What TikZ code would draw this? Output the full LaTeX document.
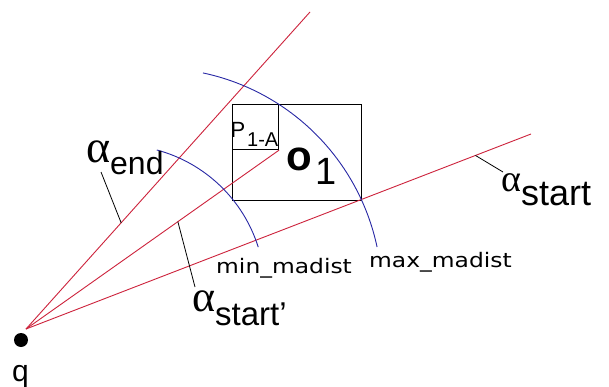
\documentclass[tikz,border=0pt]{standalone}
\usepackage{fontspec}
\usepackage{graphicx}
\setmainfont{Liberation Sans}
\newfontfamily\serifA{Liberation Serif}
\newfontfamily\dejavu{DejaVu Sans}
\usetikzlibrary{calc}
\definecolor{rayred}{RGB}{205,35,60}
\definecolor{arcblue}{RGB}{40,40,165}
\begin{document}
\begin{tikzpicture}[x=1pt,y=-1pt,
  ray/.style={draw=rayred, line width=0.9pt},
  arcline/.style={draw=arcblue, line width=0.9pt},
  leader/.style={draw=black, line width=0.8pt},
  boxline/.style={draw=black, line width=1.1pt, rectangle, inner sep=0pt, anchor=north west},
  lbl/.style={inner sep=0pt, anchor=base west},
]
\useasboundingbox (0,0) rectangle (609,387);
\fill[white] (0,0) rectangle (609,387);
% key points
\coordinate (o) at (26,329);
\coordinate (rEnd) at (310,12);
\coordinate (rStart) at (531,134);
\coordinate (c1) at (119,291);
\coordinate (c2) at (156,294);

% boxes
\node[boxline, minimum width=129pt, minimum height=96pt] (box) at (232,104) {};
\node[boxline, minimum width=46pt, minimum height=45pt] (sq) at (232,104) {};
\coordinate (rStartP) at (sq.south east);

% text inside small square (clipped)
\begin{scope}
  \clip (232,104) rectangle (278,149);
  \node[lbl] (pA) at (230.5,138) {\fontsize{22}{22}\selectfont P};
  \node[lbl] (pAsub) at (247,147) {\fontsize{20}{20}\selectfont 1-A};
\end{scope}

% rays
\draw[ray] (o) -- (rEnd);
\draw[ray] (o) -- (rStartP);
\draw[ray] (o) -- (rStart);

% arcs
\draw[arcline] ($(c1)+(-75:146)$) arc[start angle=-75, end angle=-17.5, radius=146];
\draw[arcline] ($(c2)+(-78:226)$) arc[start angle=-78, end angle=-12, radius=226];

% leaders
\coordinate (lE) at ($(o)!0.335!(rEnd)$);
\coordinate (lEt) at (101,172);
\coordinate (lS) at ($(o)!0.89!(rStart)$);
\coordinate (lSt) at (503,172);
\coordinate (lP) at ($(o)!0.6!(rStartP)$);
\coordinate (lPt) at (195,287);
\draw[leader] (lE) -- (lEt);
\draw[leader] (lS) -- (lSt);
\draw[leader] (lP) -- (lPt);

% point q
\node[circle, fill=black, minimum size=14pt, inner sep=0pt] (qdot) at (21,340) {};
\node[lbl] (q) at (12,381) {\fontsize{30}{30}\selectfont q};

% labels
\node[lbl] (aend) at (86,163) {\serifA\fontsize{46}{46}\selectfont α};
\node[lbl] (endt) at (110,175) {\fontsize{32}{32}\selectfont end};
\node[lbl] (astart) at (501,192) {\serifA\fontsize{38}{38}\selectfont α};
\node[lbl] (startt) at (521,205) {\fontsize{36}{36}\selectfont start};
\node[lbl] (astartp) at (192,311) {\serifA\fontsize{44}{44}\selectfont α};
\node[lbl] (startpt) at (215,325) {\fontsize{33}{33}\selectfont start’};

\node[lbl] (o1) at (286,171) {\fontsize{42}{42}\selectfont\bfseries o};
\node[lbl] (o1sub) at (315,185) {\fontsize{38}{38}\selectfont 1};

\node[lbl] (minl) at (216,273) {\scalebox{1.17}[1]{\dejavu\fontsize{20}{20}\selectfont min\_madist}};
\node[lbl] (maxl) at (369,267) {\scalebox{1.17}[1]{\dejavu\fontsize{20}{20}\selectfont max\_madist}};
\end{tikzpicture}
\end{document}
